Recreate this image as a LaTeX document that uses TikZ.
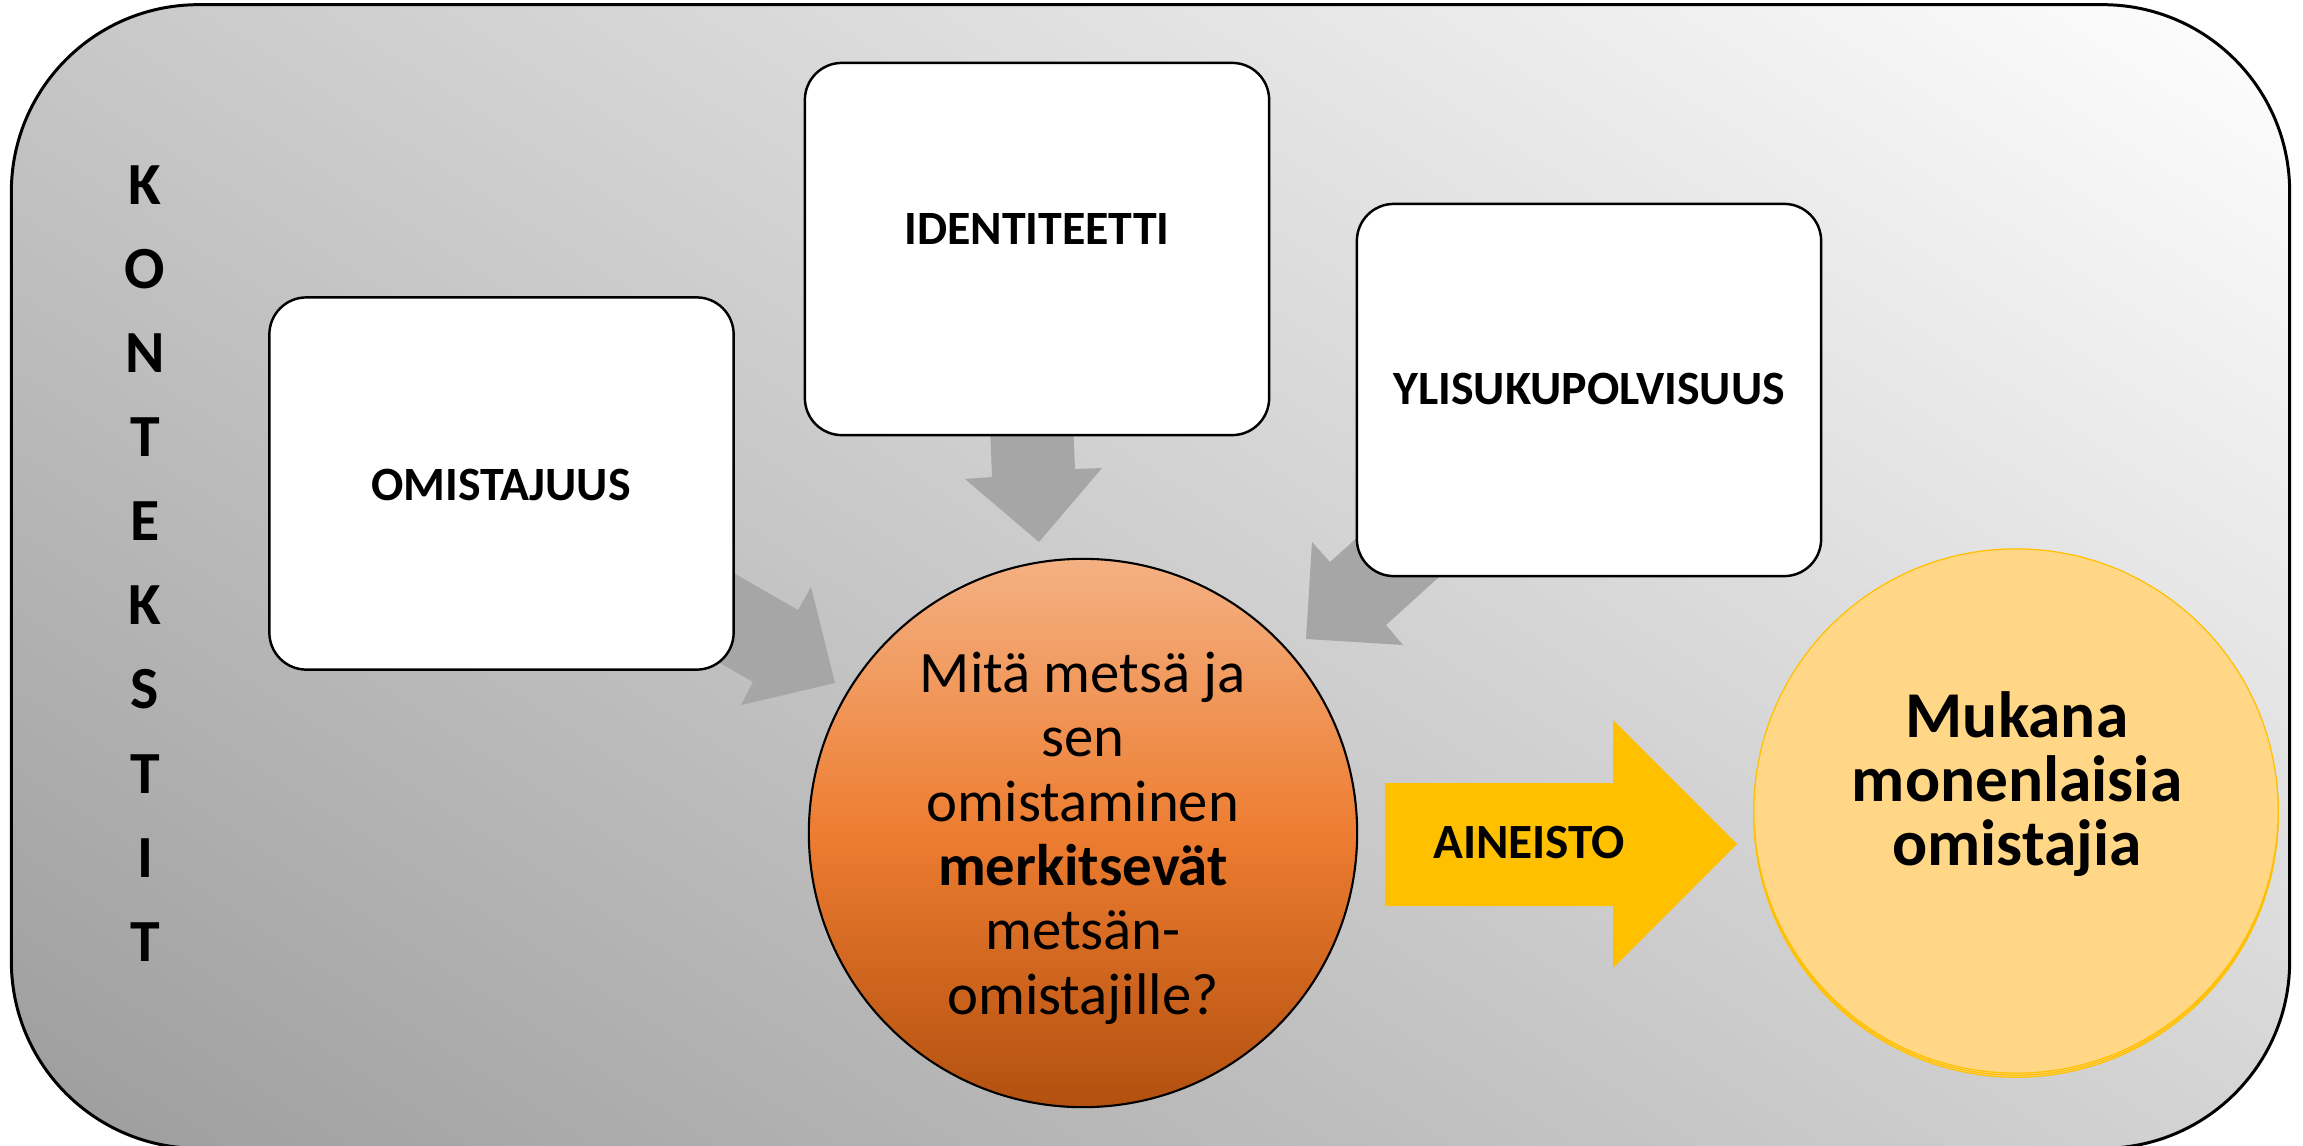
\documentclass[tikz,border=0pt]{standalone}
\usepackage{fontspec}
\setmainfont{Carlito}
\definecolor{bgdark}{HTML}{9C9C9C}
\definecolor{bglight}{HTML}{FFFFFF}
\definecolor{arrowgray}{HTML}{A6A6A6}
\definecolor{orTop}{HTML}{F4B183}
\definecolor{orMid}{HTML}{ED7D31}
\definecolor{orBot}{HTML}{B3500F}
\definecolor{ylw}{HTML}{FFC000}
\definecolor{ylwfill}{HTML}{FFD786}
\pgfdeclareverticalshading{bgshade}{100bp}{color(0bp)=(bgdark); color(15bp)=(bgdark); color(85bp)=(bglight); color(100bp)=(bglight)}
\tikzset{
  box/.style={draw=black, fill=white, rounded corners=0.37cm, line width=0.7pt, inner sep=0pt, minimum width=4.64cm, minimum height=3.72cm},
  boxlabel/.style={font=\bfseries\fontsize{13.6}{16}\selectfont, inner sep=0pt},
  grayarrow/.style={fill=arrowgray},
  ycirc/.style={circle, draw=ylw, fill=ylwfill, line width=0.35pt, minimum size=5.24cm, inner sep=0pt}
}
\begin{document}
\begin{tikzpicture}[x=0.01cm, y=-0.01cm]
\clip (0,0) rectangle (2303,1145);
% background
\node[draw=black, line width=0.85pt, shade, shading=bgshade, shading angle=-33, rounded corners=1.87cm, minimum width=22.77cm, minimum height=11.43cm, inner sep=0pt] (bg) at (1150.5,576.5) {};
% KONTEKSTIT
\node[align=center, font=\bfseries\fontsize{17}{23.9}\selectfont, inner sep=0pt] (kont) at (145,563.5) {K\\O\\N\\T\\E\\K\\S\\T\\I\\T};
% gray arrows
\fill[grayarrow] (989,400) -- (992,477) -- (965,479) -- (1039,542) -- (1102,468) -- (1075,469) -- (1072,400) -- cycle;
\fill[grayarrow] (711,560) -- (798,610) -- (811,587) -- (835,683) -- (741,705) -- (753,682) -- (666,632) -- cycle;
\fill[grayarrow] (1400,499) -- (1330,562) -- (1312,542) -- (1306,639) -- (1403,645) -- (1386,625) -- (1460,558) -- cycle;
% boxes
\node[box] (omis) at (501.5,483.5) {};
\node[box] (ident) at (1037,249) {};
\node[box] (ylis) at (1589,390) {};
\node[boxlabel] (omisT) at (501,485) {OMISTAJUUS};
\node[boxlabel] (identT) at (1037,229) {IDENTITEETTI};
\node[boxlabel] (ylisT) at (1589,389) {YLISUKUPOLVISUUS};
% orange circle
\node[draw=black, circle, line width=0.6pt, minimum size=5.48cm, inner sep=0pt, top color=orTop, bottom color=orBot, middle color=orMid] (q) at (1083,833) {};
\node[align=center, font=\fontsize{16.7}{18.3}\selectfont, inner sep=0pt] (qT) at (1083,838) {Mitä metsä ja\\sen\\omistaminen\\\textbf{merkitsevät}\\metsän-\\omistajille?};
% yellow arrow
\fill[ylw] (1385,783) -- (1613,783) -- (1613,720) -- (1737,844) -- (1613,968) -- (1613,906) -- (1385,906) -- cycle;
\node[font=\bfseries\fontsize{14}{16}\selectfont, inner sep=0pt] (ain) at (1529,843) {AINEISTO};
% yellow circle
\node[ycirc] (yc2) at (2016,815) {};
\node[ycirc] (yc1) at (2016,813) {};
\node[ycirc] (yc) at (2016,811) {};
\node[align=center, font=\bfseries\fontsize{18.6}{18.2}\selectfont, inner sep=0pt] (ycT) at (2017,784) {Mukana\\monenlaisia\\omistajia};
\end{tikzpicture}
\end{document}
